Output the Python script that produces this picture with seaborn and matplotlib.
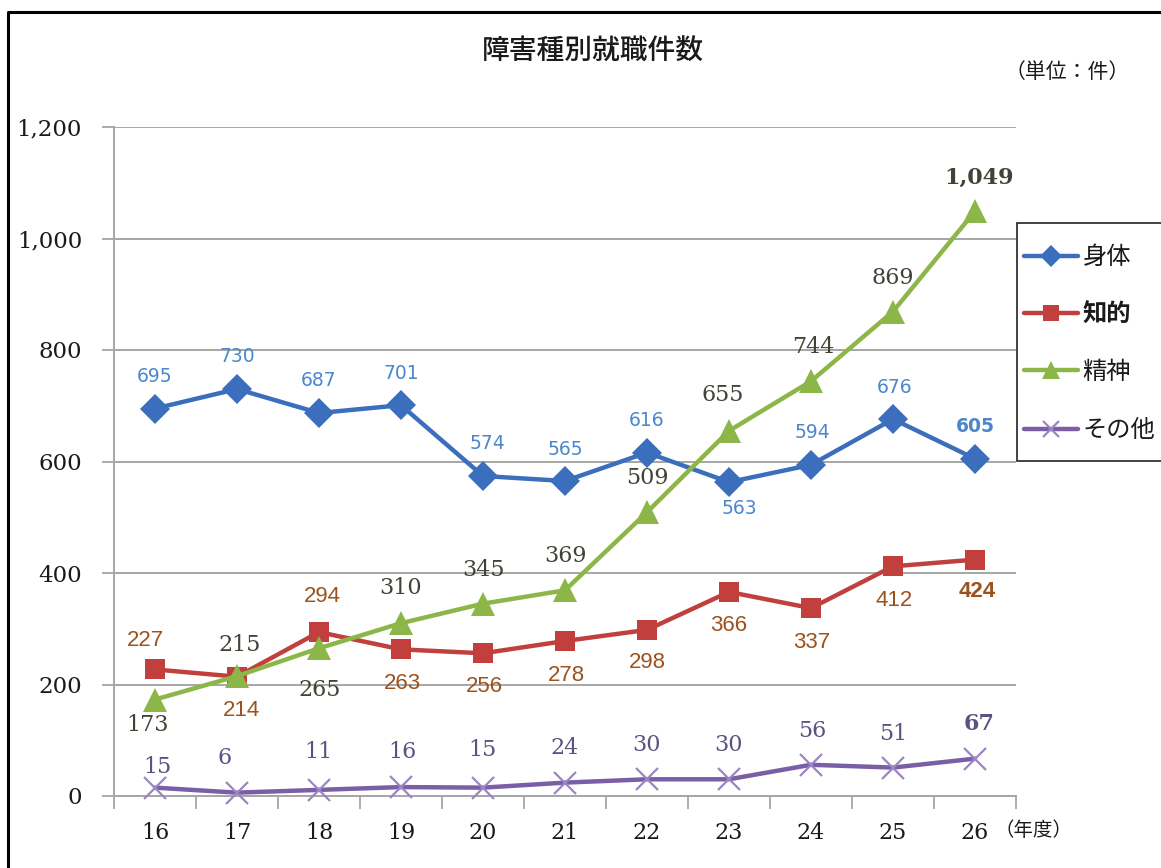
import numpy as np
import pandas as pd
import matplotlib
matplotlib.use("Agg")
import matplotlib.pyplot as plt
from matplotlib.lines import Line2D
from matplotlib.patches import Rectangle
from matplotlib.ticker import FuncFormatter
import seaborn as sns

# ---------------- data ----------------
years = ["16", "17", "18", "19", "20", "21", "22", "23", "24", "25", "26"]
series_names = ["身体", "知的", "精神", "その他"]
shintai = [695, 730, 687, 701, 574, 565, 616, 563, 594, 676, 605]
chiteki = [227, 214, 294, 263, 256, 278, 298, 366, 337, 412, 424]
seishin = [173, 215, 265, 310, 345, 369, 509, 655, 744, 869, 1049]
sonota = [15, 6, 11, 16, 15, 24, 30, 30, 56, 51, 67]
y_ticks = [0, 200, 400, 600, 800, 1000, 1200]

title = "障害種別就職件数"
unit_text = "（単位：件）"
x_unit_text = "（年度）"

# label placement (pixel offsets: dx, dy; positive dy = above)
lab_shintai = [(0, 32), (0, 33), (0, 32), (0, 32), (4, 32), (0, 32), (0, 32), (10, -26), (1, 32), (2, 32), (0, 32)]
lab_chiteki = [(-10, 29), (4, -34), (3, 36), (1, -34), (1, -33), (1, -34), (0, -33), (0, -34), (1, -34), (1, -34), (2, -32)]
lab_seishin = [(-7, -25), (3, 31), (1, -42), (0, 35), (1, 34), (0, 34), (0, 34), (-6, 36), (2, 34), (0, 34), (4, 33)]
lab_sonota = [(2, 21), (-12, 35), (-1, 38), (1, 35), (-1, 38), (0, 35), (0, 34), (0, 34), (1, 34), (0, 34), (4, 35)]

# ---------------- styling ----------------
sns.set_theme(style="white")
plt.rcParams["font.family"] = ["DejaVu Serif", "Noto Sans CJK JP"]
CJK = ["Noto Sans CJK JP", "DejaVu Sans"]

c_blue = "#3b6fbd"
c_red = "#c1403d"
c_green = "#8cb648"
c_purple = "#7a5ea6"
grid_c = "#a6a6a6"

W, H = 1161, 868
fig = plt.figure(figsize=(W / 100, H / 100), dpi=100)
fig.patch.set_facecolor("white")
ax = fig.add_axes([114 / W, 1 - 796 / H, (1016 - 114) / W, (796 - 127) / H])
ax.set_facecolor("white")

x = np.arange(len(years))
df = pd.DataFrame({
    "x": np.tile(x, 4),
    "value": shintai + chiteki + seishin + sonota,
    "series": np.repeat(series_names, len(years)),
})

styles = {
    "身体": dict(color=c_blue, marker="D", markersize=15, mec=c_blue, mew=0),
    "知的": dict(color=c_red, marker="s", markersize=15, mec=c_red, mew=0),
    "精神": dict(color=c_green, marker="^", markersize=17, mec=c_green, mew=0),
    "その他": dict(color=c_purple, marker="x", markersize=16, mec="#9a86c4", mew=1.6),
}
for name in series_names:
    sub = df[df["series"] == name]
    st = styles[name]
    sns.lineplot(data=sub, x="x", y="value", ax=ax, color=st["color"], linewidth=3.2,
                 marker=st["marker"], markersize=st["markersize"],
                 markeredgecolor=st["mec"], markeredgewidth=st["mew"],
                 clip_on=False, legend=False, zorder=3)

# data labels
def put_labels(vals, offs, color, family, size, bold_last=False, weight="normal"):
    for i, (v, (dx, dy)) in enumerate(zip(vals, offs)):
        w = "bold" if (bold_last and i == len(vals) - 1) else weight
        ax.annotate(f"{v:,}", (x[i], v), xytext=(dx * 0.72, dy * 0.72),
                    textcoords="offset points", ha="center", va="center",
                    color=color, fontsize=size, family=family, fontweight=w,
                    zorder=5, annotation_clip=False)

put_labels(shintai, lab_shintai, "#4a87cc", ["DejaVu Sans"], 13.5, bold_last=True)
put_labels(chiteki, lab_chiteki, "#9c521c", ["Liberation Sans"], 16, bold_last=True)
put_labels(seishin, lab_seishin, "#3f4536", ["DejaVu Serif"], 16, bold_last=True)
put_labels(sonota, lab_sonota, "#5a5282", ["DejaVu Serif"], 16, bold_last=True)

# axes
ax.set_xlim(-0.5, len(years) - 0.5)
ax.set_ylim(0, 1200)
ax.set_yticks(y_ticks)
ax.yaxis.set_major_formatter(FuncFormatter(lambda v, p: f"{int(v):,}"))
ax.set_xticks(x)
ax.set_xticklabels(years)
ax.set_xticks(np.arange(-0.5, len(years), 1.0), minor=True)
ax.tick_params(axis="x", which="major", length=0, pad=19, labelsize=16, labelcolor="#1a1a1a")
ax.tick_params(axis="x", which="minor", length=9, width=1.3, color=grid_c, direction="out", bottom=True)
ax.tick_params(axis="y", which="major", length=9, width=1.3, color=grid_c, direction="out",
               left=True, pad=14, labelsize=16.5, labelcolor="#1a1a1a")
ax.set_xlabel("")
ax.set_ylabel("")
ax.grid(axis="y", color=grid_c, linewidth=1.4)
ax.grid(axis="x", visible=False)
ax.set_axisbelow(True)
for s in ["top", "right"]:
    ax.spines[s].set_visible(False)
for s in ["left", "bottom"]:
    ax.spines[s].set_color(grid_c)
    ax.spines[s].set_linewidth(1.4)

# texts
fig.text(593 / W, 1 - 51 / H, title, ha="center", va="center", fontsize=20,
         family=CJK, color="#1a1a1a", fontweight="medium")
fig.text(1067 / W, 1 - 72 / H, unit_text, ha="center", va="center", fontsize=15,
         family=CJK, color="#1a1a1a")
fig.text(1034 / W, 1 - 830 / H, x_unit_text, ha="center", va="center", fontsize=14,
         family=CJK, color="#1a1a1a")

# legend frame (drawn as a box that runs off the right edge, as in the reference)
fig.add_artist(Rectangle((1017 / W, 1 - 461 / H), 0.2, (461 - 223) / H,
                         transform=fig.transFigure, facecolor="white",
                         edgecolor="#222222", linewidth=1.2, zorder=4))

handles = [Line2D([0], [0], color=styles[n]["color"], lw=3.2, marker=styles[n]["marker"],
                  markersize=styles[n]["markersize"] * 0.75,
                  markeredgecolor=styles[n]["mec"], markeredgewidth=styles[n]["mew"])
           for n in series_names]
leg = fig.legend(handles, series_names, loc="upper left",
                 bbox_to_anchor=(1017 / W, 1 - 237 / H), bbox_transform=fig.transFigure,
                 frameon=False, prop={"family": CJK, "size": 17.5}, handlelength=2.2,
                 handletextpad=0.2, labelspacing=1.33, borderpad=0.3, borderaxespad=0)
leg.set_zorder(5)
for t in leg.get_texts():
    t.set_color("#1a1a1a")
leg.get_texts()[1].set_fontweight("bold")

# outer border (top and left visible)
fig.add_artist(Line2D([8 / W, 8 / W, 1.0], [0.0, 1 - 12 / H, 1 - 12 / H],
                      transform=fig.transFigure, color="black", lw=2.2))

fig.savefig("out.png", dpi=100, facecolor="white")
